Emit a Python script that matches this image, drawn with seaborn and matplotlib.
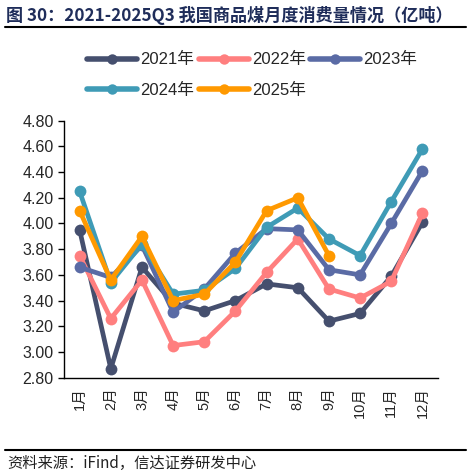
import matplotlib
matplotlib.use("Agg")
import matplotlib.pyplot as plt
import pandas as pd
import seaborn as sns
from matplotlib.lines import Line2D
from matplotlib.ticker import FormatStrFormatter, MultipleLocator

# Data (亿吨)
months = ['1月', '2月', '3月', '4月', '5月', '6月', '7月', '8月', '9月', '10月', '11月', '12月']
y2021 = [3.95, 2.87, 3.66, 3.38, 3.32, 3.40, 3.53, 3.50, 3.24, 3.30, 3.59, 4.01]
y2022 = [3.75, 3.26, 3.56, 3.05, 3.08, 3.32, 3.62, 3.88, 3.49, 3.42, 3.55, 4.08]
y2023 = [3.66, 3.58, 3.83, 3.31, 3.49, 3.77, 3.96, 3.95, 3.64, 3.60, 4.00, 4.41]
y2024 = [4.25, 3.54, 3.84, 3.45, 3.48, 3.65, 3.97, 4.12, 3.88, 3.75, 4.17, 4.58]
y2025 = [4.10, 3.56, 3.90, 3.40, 3.45, 3.70, 4.10, 4.20, 3.75]
years = ['2021年', '2022年', '2023年', '2024年', '2025年']
colors = ['#454F6E', '#FF7F7F', '#5A6BA5', '#3F9BB6', '#FF9900']

rows = []
for name, vals in zip(years, [y2021, y2022, y2023, y2024, y2025]):
    for i, v in enumerate(vals):
        rows.append({'year': name, 'pos': i, 'value': v})
df = pd.DataFrame(rows)

sns.set_style('white')
plt.rcParams['font.family'] = ['Liberation Sans', 'Noto Sans CJK SC']

fig = plt.figure(figsize=(4.71, 4.76), dpi=100)
ax = fig.add_axes([0.136, 0.2065, 0.794, 0.540])

sns.lineplot(data=df, x='pos', y='value', hue='year', hue_order=years,
             palette=colors, marker='o', markersize=8.5, markeredgewidth=0,
             linewidth=3.4, ax=ax, legend=False, sort=False)

ax.set_xlim(-0.5, 11.5)
ax.set_ylim(2.80, 4.80)
ax.yaxis.set_major_locator(MultipleLocator(0.2))
ax.yaxis.set_major_formatter(FormatStrFormatter('%.2f'))
ax.set_xticks(range(12))
ax.set_xticklabels(months, rotation=90)
ax.set_xticks([i - 0.5 for i in range(13)], minor=True)
ax.tick_params(axis='x', which='major', length=0, pad=7, labelsize=10.5)
ax.tick_params(axis='x', which='minor', length=4, width=1, direction='out', color='black')
ax.tick_params(axis='y', length=4, width=1, direction='out', color='black', labelsize=11.5, left=True)
ax.set_xlabel('')
ax.set_ylabel('')
for s in ['top', 'right']:
    ax.spines[s].set_visible(False)
for s in ['left', 'bottom']:
    ax.spines[s].set_color('black')
    ax.spines[s].set_linewidth(1)

# legend fills column-wise; reorder so rows read 2021-2023 / 2024-2025
order = [0, 3, 1, 4, 2]
handles = [Line2D([], [], color=c, lw=4, marker='o', markersize=7.5, markeredgewidth=0) for c in colors]
fig.legend([handles[i] for i in order], [years[i] for i in order],
           loc='upper left', bbox_to_anchor=(0.185, 0.890), ncol=3,
           frameon=False, fontsize=12, handlelength=3.0, handletextpad=0.2,
           columnspacing=0.25, labelspacing=0.9, borderaxespad=0, borderpad=0)

fig.text(0.013, 0.968, '图 30：2021-2025Q3 我国商品煤月度消费量情况（亿吨）',
         fontsize=12.3, fontweight='bold', color='#1F2D5A', va='center', ha='left',
         family=['Noto Sans CJK SC', 'DejaVu Sans'])
fig.add_artist(Line2D([0.011, 0.989], [0.943, 0.943], color='black', lw=1.5))
fig.add_artist(Line2D([0.011, 0.989], [0.055, 0.055], color='black', lw=1.5))
fig.text(0.015, 0.027, '资料来源：iFind，信达证券研发中心', fontsize=11, style='italic',
         color='#222222', va='center', ha='left',
         family=['Noto Sans CJK SC', 'DejaVu Sans'])

fig.savefig('out.png', dpi=100)
